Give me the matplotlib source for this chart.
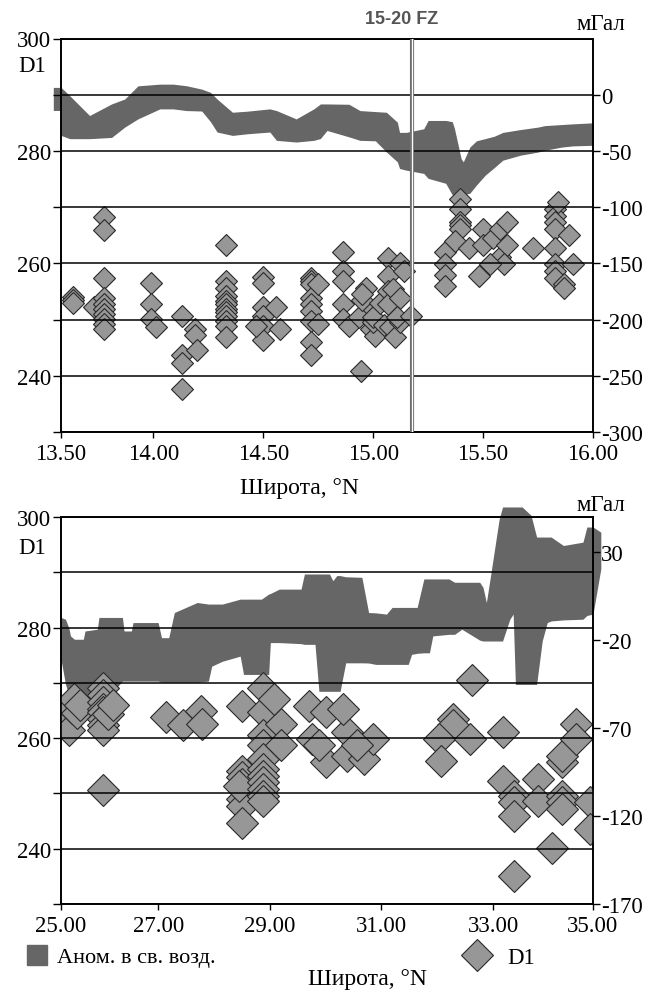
import numpy as np
import matplotlib.pyplot as plt
from matplotlib.lines import Line2D

plt.rcParams['font.family'] = ['Liberation Serif', 'DejaVu Serif']
plt.rcParams['axes.unicode_minus'] = False

# --- данные: верхний профиль (13.5-16 N) ---
lat_anom_top = [13.545, 13.578, 13.58, 13.62, 13.71, 13.81, 13.87, 13.93, 14.03, 14.09,
                14.15, 14.22, 14.26, 14.29, 14.36, 14.43, 14.53, 14.56, 14.65, 14.73,
                14.76, 14.79, 14.89, 14.94, 15.01, 15.06, 15.11, 15.12, 15.15, 15.23,
                15.25, 15.33, 15.36, 15.37, 15.40, 15.41, 15.44, 15.47, 15.51, 15.55,
                15.59, 15.67, 15.75, 15.78, 15.86, 15.91, 16.00]
anom_hi_top = [6.5, 6.5, 6.5, -0.9, -18.5, -8.2, -3.8, 7.9, 9.4, 9.4,
               8.0, 5.0, 2.1, -3.8, -15.6, -14.6, -12.6, -14.1, -21.5, -12.6,
               -8.2, -8.2, -8.5, -14.1, -15.0, -15.6, -24.4, -33.5, -33.5, -30.3,
               -22.9, -22.9, -24.0, -30.3, -56.8, -59.7, -46.5, -41.0, -39.0, -37.0,
               -33.5, -31.0, -28.8, -27.5, -26.5, -25.9, -25.0]
anom_lo_top = [-14.0, -14.0, -36.2, -39.1, -39.1, -38.0, -28.8, -21.5, -12.6, -12.6,
               -14.1, -14.5, -24.0, -33.2, -36.2, -34.7, -33.2, -40.6, -42.1, -40.6,
               -39.0, -31.8, -37.5, -40.6, -41.0, -50.9, -59.7, -65.6, -67.1, -70.0,
               -74.4, -78.8, -89.1, -89.5, -89.5, -89.1, -87.6, -80.3, -71.5, -65.0,
               -58.2, -53.8, -51.0, -49.4, -46.5, -45.5, -45.0]

lat_d1_top = [13.635, 13.635, 13.635, 13.73,
              13.776, 13.776, 13.776, 13.776, 13.776, 13.776, 13.776, 13.776, 13.776, 13.776,
              13.99, 13.99, 13.99, 14.01,
              14.13, 14.13, 14.13, 14.13, 14.19, 14.19, 14.20,
              14.33, 14.33, 14.33, 14.33, 14.33, 14.33, 14.33, 14.33, 14.33, 14.33, 14.33, 14.33,
              14.50, 14.50, 14.50, 14.50, 14.50, 14.50, 14.465, 14.56, 14.575,
              14.716, 14.716, 14.716, 14.716, 14.716, 14.716, 14.716, 14.716, 14.716, 14.747, 14.747,
              14.864, 14.864, 14.864, 14.864, 14.864, 14.89, 14.943,
              14.966, 14.97, 14.99, 15.01, 14.935, 14.95, 14.95, 15.00, 15.00, 15.03, 15.05,
              15.068, 15.068, 15.068, 15.068, 15.075, 15.09, 15.10, 15.12, 15.12, 15.12, 15.14,
              15.11, 15.17,
              15.327, 15.327, 15.327, 15.327, 15.397, 15.397, 15.397, 15.397, 15.397, 15.37,
              15.436, 15.483, 15.50, 15.50, 15.546, 15.577, 15.577, 15.608, 15.608, 15.593,
              15.53, 15.726,
              15.828, 15.828, 15.828, 15.828, 15.828, 15.828, 15.828, 15.828, 15.867, 15.867,
              15.89, 15.91, 15.84]
d1_top = [254.0, 253.5, 253.0, 252.2,
          268.2, 265.9, 257.4, 253.9, 252.7, 251.9, 251.0, 250.1, 249.2, 248.4,
          256.5, 252.7, 250.1, 248.7,
          250.7, 243.7, 242.2, 237.7, 248.4, 247.2, 244.6,
          263.3, 256.8, 255.7, 254.2, 253.3, 252.7, 251.9, 251.3, 250.7, 249.8, 248.9, 246.9,
          257.6, 256.5, 252.2, 250.7, 248.9, 246.3, 248.9, 252.2, 248.4,
          257.4, 256.8, 256.3, 253.9, 252.7, 251.6, 249.8, 246.0, 243.7, 256.3, 249.2,
          262.1, 258.6, 256.8, 252.7, 250.1, 248.9, 240.8,
          255.7, 251.6, 248.4, 247.0, 250.4, 253.5, 254.5, 249.5, 250.5, 253.0, 249.0,
          260.9, 257.7, 255.1, 252.7, 248.7, 255.5, 246.9, 260.1, 253.9, 249.5, 258.6,
          250.4, 250.7,
          262.1, 259.8, 258.0, 256.0, 271.5, 269.7, 267.4, 266.8, 266.2, 263.9,
          262.7, 257.7, 266.2, 263.3, 264.5, 266.2, 261.2, 267.4, 263.3, 259.8,
          259.8, 262.7,
          269.7, 268.5, 267.4, 266.2, 262.7, 259.8, 258.6, 257.4, 256.3, 255.7,
          265.0, 259.8, 270.9]

# --- данные: нижний профиль (25-35 N) ---
lat_anom_bot = [25.26, 25.34, 25.40, 25.43, 25.50, 25.66, 25.69, 25.91, 25.94, 26.17,
                26.36, 26.39, 26.52, 26.55, 27.00, 27.06, 27.19, 27.29, 27.70, 27.90,
                27.96, 28.15, 28.47, 28.53, 28.85, 28.98, 29.01, 29.17, 29.56, 29.62,
                29.81, 29.88, 30.07, 30.13, 30.20, 30.26, 30.36, 30.39, 30.65, 30.77,
                30.90, 31.09, 31.19, 31.48, 31.54, 31.64, 31.76, 31.86, 31.92, 32.21,
                32.31, 32.44, 32.76, 32.82, 32.88, 32.95, 33.11, 33.17, 33.30, 33.36,
                33.40, 33.52, 33.68, 33.78, 33.88, 33.97, 34.04, 34.26, 34.61, 34.68,
                34.79, 34.93]
anom_hi_bot = [-7.1, -8.1, -13.0, -17.6, -19.5, -19.5, -14.8, -13.8, -7.1, -7.1,
               -7.1, -14.8, -14.8, -10.0, -10.0, -18.6, -18.6, -4.3, 1.4, 0.5,
               0.5, 0.5, 3.3, 3.3, 3.3, 6.2, 6.5, 9.0, 9.0, 17.6,
               17.6, 17.6, 17.6, 13.8, 16.7, 16.7, 16.0, 16.0, 15.7, -4.3,
               -4.5, -5.2, -1.4, -1.4, -1.4, -1.4, 14.8, 14.8, 14.8, 14.8,
               12.9, 12.9, 12.9, 10.0, 1.4, 15.7, 49.0, 55.7, 55.7, 55.7,
               55.7, 55.7, 51.0, 38.6, 38.6, 38.6, 38.6, 33.8, 35.7, 44.3,
               44.3, 41.4]
anom_lo_bot = [-31.0, -45.0, -51.0, -51.0, -51.0, -51.0, -51.0, -50.5, -50.5, -50.0,
               -43.3, -43.3, -43.3, -43.3, -43.3, -43.9, -43.9, -43.9, -43.9, -43.3,
               -34.8, -32.0, -29.1, -39.5, -39.5, -39.5, -21.4, -21.4, -22.0, -22.4,
               -22.4, -49.1, -49.1, -49.1, -49.1, -49.1, -32.9, -32.9, -32.9, -33.0,
               -33.8, -33.8, -33.8, -33.8, -28.1, -27.5, -27.2, -27.2, -17.6, -16.7,
               -16.7, -13.8, -20.0, -20.5, -20.5, -20.5, -20.5, -20.5, -8.1, -5.2,
               -45.2, -45.2, -45.2, -45.2, -20.5, -10.0, -9.1, -8.5, -8.1, -6.0,
               -5.2, 20.5]

lat_d1_bot = [25.35, 25.40, 25.45, 25.50, 25.55, 25.60,
              26.02, 26.02, 26.02, 26.02, 26.02, 26.02, 26.02, 26.02, 26.02, 26.11, 26.20,
              27.14, 27.45, 27.76, 27.79,
              28.51, 28.51, 28.51, 28.51, 28.51, 28.51, 28.51, 28.45,
              28.885, 28.885, 28.885, 28.885, 28.885, 28.885, 28.885, 28.885, 28.885, 28.885,
              28.885, 29.20, 29.20, 29.07,
              29.70, 30.01, 30.01, 30.38, 30.38, 30.32, 30.69, 30.85, 29.76, 29.88, 30.57,
              32.28, 32.28, 32.03, 32.06, 32.59, 32.62,
              33.18, 33.18, 33.37, 33.37, 33.37, 33.37, 33.81, 33.81, 34.06,
              34.24, 34.24, 34.24, 34.24, 34.24, 34.49, 34.49, 34.74, 34.74]
d1_bot = [263.0, 261.5, 265.5, 267.0, 264.5, 266.0,
          269.0, 267.8, 266.5, 265.3, 264.7, 263.5, 262.3, 261.4, 250.6, 264.4, 266.0,
          263.8, 262.3, 265.0, 262.6,
          265.9, 254.1, 252.9, 251.7, 249.0, 247.8, 244.7, 251.4,
          269.0, 264.7, 260.5, 258.7, 256.2, 254.4, 253.2, 252.0, 250.8, 249.6,
          248.7, 262.6, 258.7, 267.0,
          265.9, 264.7, 255.6, 261.1, 256.8, 265.3, 256.2, 259.9, 259.9, 258.7, 258.7,
          263.5, 262.3, 259.9, 255.9, 259.9, 270.5,
          261.1, 252.3, 249.6, 248.4, 246.0, 235.0, 252.6, 248.7, 240.2,
          255.6, 256.8, 249.6, 248.4, 247.2, 262.6, 259.9, 248.4, 243.5]

BAND = '#666666'
DIAM = '#979797'
EDGE = '#2a2a2a'
W, H = 660, 995

fig = plt.figure(figsize=(6.6, 9.95), dpi=100)


def panel(top_px, bot_px, xlim, xticks, xlabels, d1_lat, d1, a_lat, a_hi, a_lo,
          rlim, rticks, ms, xlab_x, xlab_y):
    ax = fig.add_axes([61 / W, 1 - bot_px / H, 532 / W, (bot_px - top_px) / H])
    ax2 = ax.twinx()
    ax.set_zorder(ax2.get_zorder() + 1)
    ax.patch.set_visible(False)

    ax2.fill_between(a_lat, a_lo, a_hi, color=BAND, lw=0, clip_on=False)
    ax2.set_ylim(rlim)
    ax2.set_yticks(rticks)
    ax2.tick_params(axis='y', direction='out', length=5, width=1, pad=1, labelsize=16.5)

    ax.plot(d1_lat, d1, ls='none', marker='D', ms=ms, mfc=DIAM, mec=EDGE, mew=0.8)
    ax.set_xlim(xlim)
    ax.set_xticks(xticks, xlabels)
    ax.set_ylim(230, 300)
    yt = list(range(230, 301, 10))
    ax.set_yticks(yt, [str(v) if v in (240, 260, 280, 300) else '' for v in yt])
    ax.tick_params(axis='y', direction='out', length=6, width=1, pad=1, labelsize=16.5)
    ax.tick_params(axis='x', direction='out', length=4, width=1, pad=4, labelsize=16.5)
    ax.set_axisbelow(False)
    ax.yaxis.grid(True, color='black', lw=1.1)
    for a in (ax, ax2):
        for s in a.spines.values():
            s.set_linewidth(1.2)
            s.set_color('black')
    ax.set_xlabel('Широта, °N', fontsize=17)
    ax.xaxis.set_label_coords(xlab_x, xlab_y)
    return ax


ax_top = panel(39.5, 433, (13.58, 16.0), [13.58, 14.0, 14.5, 15.0, 15.5, 16.0],
               ['13.50', '14.00', '14.50', '15.00', '15.50', '16.00'],
               lat_d1_top, d1_top, lat_anom_top, anom_hi_top, anom_lo_top,
               (-300, 50), list(range(-300, 1, 50)), 11.5, 0.449, -0.115)
ax_top.axvline(15.175, color='#707070', lw=3.0, zorder=3)
ax_top.axvline(15.175, color='white', lw=0.9, zorder=3.1)

ax_bot = panel(518, 905, (25.26, 34.79), [25.26, 27, 29, 31, 33, 34.79],
               ['25.00', '27.00', '29.00', '31.00', '33.00', '35.00'],
               lat_d1_bot, d1_bot, lat_anom_bot, anom_hi_bot, anom_lo_bot,
               (-170, 50), [-170, -120, -70, -20, 30], 16.3, 0.576, -0.166)

# подписи
fig.text(402 / W, 1 - 20 / H, '15-20 FZ', family='Liberation Sans', weight='bold',
         color='#555555', fontsize=13, ha='center', va='center')
for ytxt in (25, 506):
    fig.text(601 / W, 1 - ytxt / H, 'мГал', fontsize=16.5, ha='center', va='center')
for ytxt in (66, 548):
    fig.text(32 / W, 1 - ytxt / H, 'D1', fontsize=16.5, ha='center', va='center')

# легенда
h1 = Line2D([], [], ls='none', marker='s', ms=15, mfc=BAND, mec=BAND)
h2 = Line2D([], [], ls='none', marker='D', ms=16.3, mfc=DIAM, mec=EDGE, mew=0.8)
fig.legend([h1], ['Аном. в св. возд.'], loc='center left', bbox_to_anchor=(24 / W, 1 - 958 / H),
           frameon=False, fontsize=16, handlelength=1.2, handletextpad=0.3, borderpad=0,
           borderaxespad=0)
fig.legend([h2], ['D1'], loc='center left', bbox_to_anchor=(459 / W, 1 - 958 / H),
           frameon=False, fontsize=16.5, handlelength=1.6, handletextpad=0.5, borderpad=0,
           borderaxespad=0)

fig.savefig('out.png', dpi=100, facecolor='white')
